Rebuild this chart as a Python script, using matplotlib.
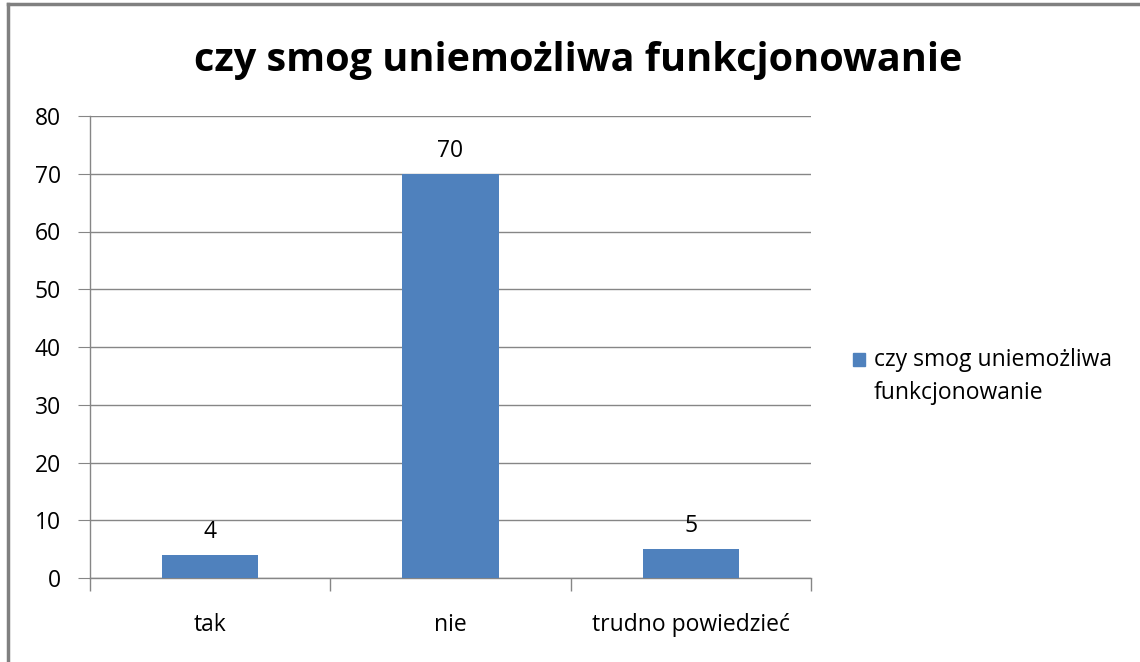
import matplotlib
matplotlib.use("Agg")
import matplotlib.pyplot as plt
from matplotlib.lines import Line2D
from matplotlib.patches import Rectangle

categories = ["tak", "nie", "trudno powiedzieć"]
values = [4, 70, 5]
series_name = "czy smog uniemożliwa funkcjonowanie"
title = "czy smog uniemożliwa funkcjonowanie"
yticks = [0, 10, 20, 30, 40, 50, 60, 70, 80]

plt.rcParams['font.family'] = ['Open Sans', 'DejaVu Sans']

W, H = 1140, 662
FS = 16.5
fig = plt.figure(figsize=(W / 100, H / 100), dpi=100)
fig.patch.set_facecolor("white")

ax = fig.add_axes([90 / W, 1 - 578 / H, (811 - 90) / W, (578 - 116) / H])
bar_color = "#4F81BD"
grid_color = "#868686"

x = list(range(len(categories)))
bars = ax.bar(x, values, width=0.4, color=bar_color, zorder=3)
ax.set_xlim(-0.5, len(categories) - 0.5)
ax.set_ylim(0, 80)
ax.set_yticks(yticks)
ax.set_yticklabels([str(t) for t in yticks], fontsize=FS, color="#000000")
ax.yaxis.grid(True, color=grid_color, linewidth=1, zorder=0)
ax.set_axisbelow(True)

for s in ["top", "right"]:
    ax.spines[s].set_visible(False)
for s in ["left", "bottom"]:
    ax.spines[s].set_color(grid_color)
    ax.spines[s].set_linewidth(1)

ax.tick_params(axis="y", length=9, color=grid_color, pad=12, labelsize=FS)
ax.set_xticks(x)
ax.set_xticklabels(categories, fontsize=FS)
ax.tick_params(axis="x", length=0, pad=25)
# category boundary tick marks
ax.set_xticks([-0.5, 0.5, 1.5, 2.5], minor=True)
ax.tick_params(axis="x", which="minor", length=9, color=grid_color, width=1)

for xi, v in zip(x, values):
    ax.annotate(str(v), (xi, v), xytext=(0, 8), textcoords="offset points",
                ha="center", va="bottom", fontsize=FS)

fig.text(578 / W, 1 - 61 / H, title, ha="center", va="center",
         fontsize=28.5, fontweight="bold")

# legend
fig.patches.append(Rectangle((853 / W, 1 - 366 / H), 12 / W, 13 / H,
                             transform=fig.transFigure, color=bar_color))
fig.text(874 / W, 1 - 360 / H, "czy smog uniemożliwa", ha="left", va="center", fontsize=FS)
fig.text(874 / W, 1 - 393 / H, "funkcjonowanie", ha="left", va="center", fontsize=FS)

# chart area border (top and left visible)
fig.lines.append(Line2D([8 / W, 8 / W], [0, 1 - 4 / H], transform=fig.transFigure,
                        color="#808080", linewidth=2.5))
fig.lines.append(Line2D([8 / W, 1], [1 - 4 / H, 1 - 4 / H], transform=fig.transFigure,
                        color="#808080", linewidth=2.5))

fig.savefig("out.png", dpi=100)
